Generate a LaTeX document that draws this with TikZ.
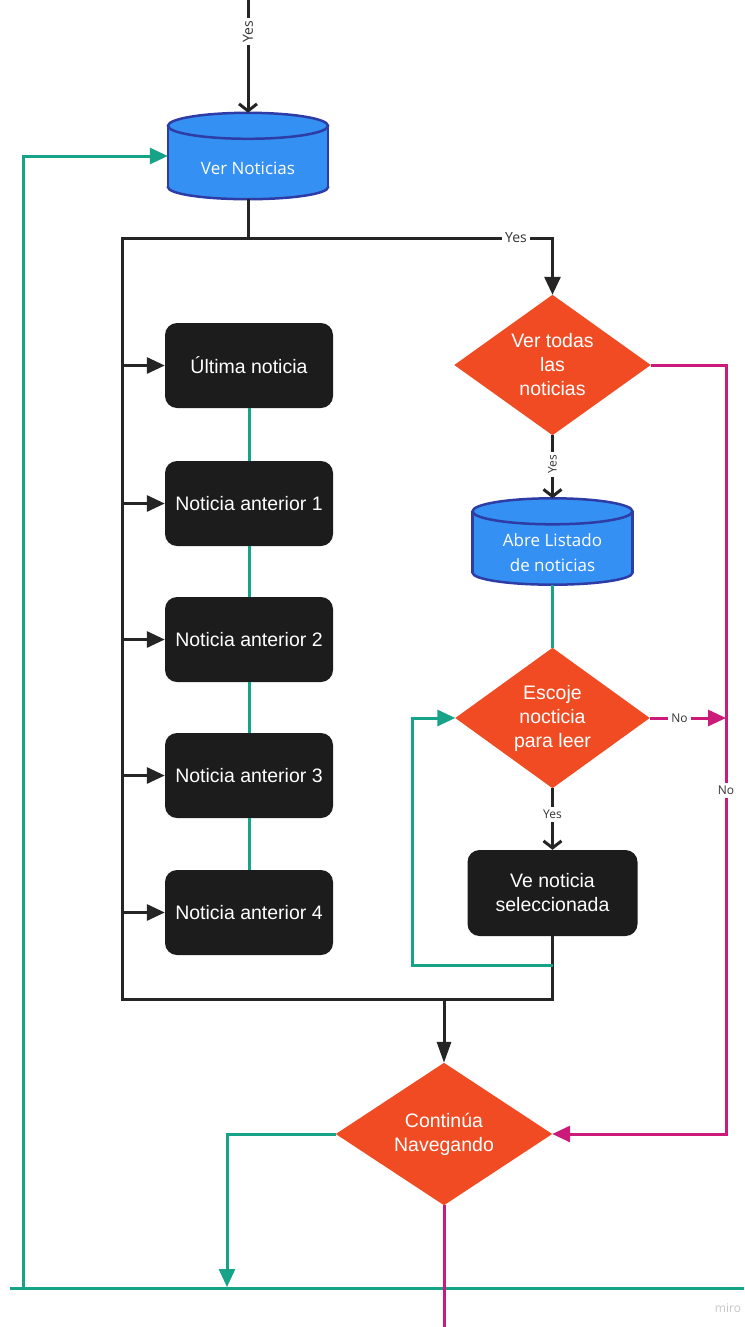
\documentclass[tikz,border=0pt]{standalone}
\usepackage{fontspec}
\setmainfont{Liberation Sans}
\newfontfamily\labelfont{Open Sans}
\usetikzlibrary{arrows.meta}
\pgfdeclarelayer{background}
\pgfsetlayers{background,main}

\definecolor{decisionred}{HTML}{F14B24}
\definecolor{stepblack}{HTML}{1C1C1C}
\definecolor{dbfill}{HTML}{3590F3}
\definecolor{dbedge}{HTML}{2D3DA5}
\definecolor{flowgreen}{HTML}{16A388}
\definecolor{flowmagenta}{HTML}{CC1A7A}
\definecolor{flowdark}{HTML}{252525}
\definecolor{labelgray}{HTML}{333333}

% database cylinder drawn behind the (invisible) node #1
\newcommand\drawdb[1]{%
  \begin{pgfonlayer}{background}
    \filldraw[fill=dbfill,draw=dbedge,line width=2.5pt]
      ([yshift=12pt]#1.south) ellipse [x radius=80pt,y radius=12pt];
    \fill[dbfill] ([yshift=-13pt]#1.north west) rectangle ([yshift=12pt]#1.south east);
    \draw[dbedge,line width=2.5pt] ([yshift=-13pt]#1.north west) -- ([yshift=12pt]#1.south west);
    \draw[dbedge,line width=2.5pt] ([yshift=-13pt]#1.north east) -- ([yshift=12pt]#1.south east);
    \filldraw[fill=dbfill,draw=dbedge,line width=2.5pt]
      ([yshift=-13pt]#1.north) ellipse [x radius=80pt,y radius=13pt];
  \end{pgfonlayer}}

% decision diamond drawn behind the node #1
\newcommand\drawdecision[1]{%
  \begin{pgfonlayer}{background}
    \fill[decisionred] (#1.north) -- (#1.east) -- (#1.south) -- (#1.west) -- cycle;
  \end{pgfonlayer}}

\begin{document}
\begin{tikzpicture}[x=1pt,y=-1pt,
  every node/.style={inner sep=0pt},
  stepbox/.style={rectangle, rounded corners=12pt, fill=stepblack, text=white,
    minimum width=168pt, minimum height=85pt, align=center,
    font=\fontsize{19.5}{24}\selectfont},
  decshape/.style={rectangle, minimum width=196pt, minimum height=140pt,
    text=white, align=center, font=\fontsize{19.5}{24}\selectfont},
  dbshape/.style={rectangle, minimum width=160pt, minimum height=86pt},
  dbtext/.style={text=white, align=center, font=\labelfont\fontsize{17}{25}\selectfont},
  conn/.style={draw=flowdark, line width=3pt},
  grn/.style={draw=flowgreen, line width=3pt},
  mag/.style={draw=flowmagenta, line width=3pt},
  tri/.style={-{Triangle[length=18pt,width=16pt]}},
  barb/.style={-{Straight Barb[length=7pt,width=18pt]}},
  lbl/.style={fill=white, text=labelgray, inner sep=3pt,
    font=\labelfont\fontsize{12}{14}\selectfont},
  biglbl/.style={lbl, font=\labelfont\fontsize{14}{16}\selectfont},
]
\begin{pgfonlayer}{background}
  \fill[white] (0,0) rectangle (744,1327);
\end{pgfonlayer}
\useasboundingbox (0,0) rectangle (744,1327);

% ---- nodes
\node[dbshape] (vn) at (248,156) {};
\node[dbtext] (vnt) at ([yshift=-12pt]vn.center) {Ver Noticias};

\node[stepbox] (b1) at (249,365.5) {Última noticia};
\node[stepbox] (b2) at (249,503.5) {Noticia anterior 1};
\node[stepbox] (b3) at (249,639.5) {Noticia anterior 2};
\node[stepbox] (b4) at (249,775.5) {Noticia anterior 3};
\node[stepbox] (b5) at (249,912.5) {Noticia anterior 4};

\node[decshape] (d1) at (552.5,365) {Ver todas\\las\\noticias};
\node[dbshape] (ab) at (552.5,541.5) {};
\node[dbtext] (abt) at ([yshift=-11pt]ab.center) {Abre Listado\\de noticias};
\node[decshape, minimum width=194pt] (d2) at (552.5,718) {Escoje\\nocticia\\para leer};
\node[stepbox, minimum width=170pt, minimum height=86pt] (ve) at (552.5,893) {Ve noticia\\seleccionada};
\node[decshape, minimum width=216pt, minimum height=142pt] (d3) at (444,1134) {Continúa\\Navegando};

\node[text=black!22, font=\labelfont\fontsize{12}{13}\selectfont] (wm) at (728,1308) {miro};

\drawdb{vn}
\drawdb{ab}
\drawdecision{d1}
\drawdecision{d2}
\drawdecision{d3}

% ---- route points
\coordinate (topin) at (248,0);
\coordinate (split) at (248,238);
\coordinate (tl) at (122,238);
\coordinate (bl) at (122,999);
\coordinate (br) at (552.5,999);
\coordinate (merge) at (444,999);
\coordinate (mhit) at (726,718);
\coordinate (loopr) at (552.5,965);
\coordinate (loopl) at (412,965);
\coordinate (gdrop) at (227,1287);
\coordinate (blinel) at (10,1288);
\coordinate (bliner) at (744,1288);
\coordinate (gcorner) at (23,1288);
\coordinate (mexit) at (444,1327);

% ---- connectors
\draw[conn,barb] (topin) -- node[biglbl,rotate=90,pos=0.28]{Yes} (vn.north);
\draw[conn] (vn.south) -- (split);
\draw[conn,tri] (split) -| node[biglbl,pos=0.44]{Yes} (d1.north);
\draw[conn] (split) -- (tl) -- (bl) -- (br) -- (ve.south);
\foreach \b in {b1,b2,b3,b4,b5}
  \draw[conn,tri] (tl |- \b.west) -- (\b.west);

\draw[grn] (b1.south) -- (b2.north);
\draw[grn] (b2.south) -- (b3.north);
\draw[grn] (b3.south) -- (b4.north);
\draw[grn] (b4.south) -- (b5.north);

\draw[conn,barb] (d1.south) -- node[lbl,rotate=90,pos=0.46]{Yes} (ab.north);
\draw[grn] (ab.south) -- (d2.north);
\draw[mag,tri] (d2.east) -- node[lbl,pos=0.39]{No} (mhit);
\draw[conn,barb] (d2.south) -- node[lbl,pos=0.43]{Yes} (ve.north);
\draw[grn,tri] (loopr) -- (loopl) |- (d2.west);

\draw[mag,tri] (d1.east) -- (d1.east -| mhit)
  -- node[lbl,pos=0.553]{No} (d3.east -| mhit) -- (d3.east);

\draw[conn,-{Triangle[length=21pt,width=14pt]}] (merge) -- (d3.north);
\draw[grn,tri] (d3.west) -| (gdrop);
\draw[grn] (blinel) -- (bliner);
\draw[grn,tri] (gcorner) |- (vn.west);
\draw[mag] (d3.south) -- (mexit);
\end{tikzpicture}
\end{document}
